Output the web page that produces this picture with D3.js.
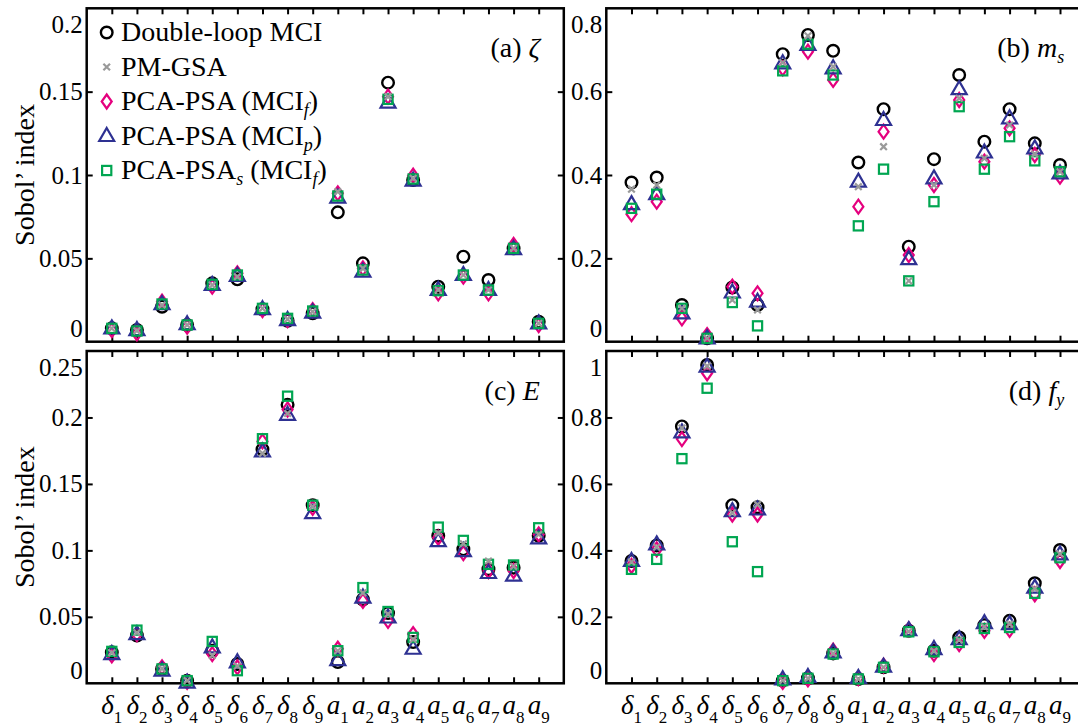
<!DOCTYPE html>
<html>
  <head>
    <title>Sobol' indices</title>
    <script src="https://d3js.org/d3.v7.min.js"></script>
    <style>
      body { margin: 0; background: #fff; }
      text { font-family: "Liberation Serif", "Times New Roman", serif; fill: #000; }
      .frame { fill: none; stroke: #000; stroke-width: 2.5; }
      .tick line { stroke: #000; stroke-width: 2; }
    </style>
  </head>
  <body>
    <div id="chart"></div>
    <script>
      // categories: symbol + subscript
      var catSymbols = ["δ","δ","δ","δ","δ","δ","δ","δ","δ","a","a","a","a","a","a","a","a","a"];
      var catSubs = ["1","2","3","4","5","6","7","8","9","1","2","3","4","5","6","7","8","9"];

      // (a) zeta
      var zetaMCI  = [0.008, 0.007, 0.021, 0.010, 0.035, 0.0374, 0.0195, 0.0126, 0.017, 0.0776, 0.047, 0.1554, 0.097, 0.033, 0.051, 0.037, 0.056, 0.012];
      var zetaPM   = [0.008, 0.0065, 0.022, 0.010, 0.034, 0.039, 0.020, 0.0135, 0.018, 0.090, 0.044, 0.147, 0.098, 0.031, 0.040, 0.031, 0.056, 0.011];
      var zetaPCAf = [0.007, 0.005, 0.024, 0.009, 0.033, 0.041, 0.019, 0.013, 0.019, 0.089, 0.044, 0.147, 0.0996, 0.029, 0.039, 0.029, 0.058, 0.010];
      var zetaPCAp = [0.008, 0.007, 0.0225, 0.0105, 0.034, 0.0395, 0.0195, 0.013, 0.0175, 0.0864, 0.042, 0.1434, 0.0966, 0.031, 0.040, 0.031, 0.0555, 0.011];
      var zetaPCAs = [0.008, 0.0064, 0.0226, 0.010, 0.0344, 0.040, 0.020, 0.014, 0.0184, 0.0874, 0.043, 0.1454, 0.0976, 0.0306, 0.040, 0.031, 0.056, 0.011];

      // (b) m_s
      var msMCI  = [0.382, 0.394, 0.088, 0.008, 0.13, 0.088, 0.69, 0.736, 0.698, 0.43, 0.558, 0.228, 0.438, 0.64, 0.48, 0.558, 0.476, 0.424];
      var msPM   = [0.366, 0.376, 0.08, 0.008, 0.10, 0.076, 0.67, 0.734, 0.66, 0.372, 0.468, 0.146, 0.376, 0.584, 0.44, 0.52, 0.45, 0.408];
      var msPCAf = [0.306, 0.336, 0.056, 0.016, 0.132, 0.116, 0.656, 0.696, 0.628, 0.324, 0.504, 0.208, 0.376, 0.58, 0.432, 0.512, 0.448, 0.396];
      var msPCAp = [0.33, 0.354, 0.068, 0.008, 0.118, 0.096, 0.668, 0.712, 0.656, 0.384, 0.532, 0.198, 0.392, 0.606, 0.454, 0.536, 0.464, 0.404];
      var msPCAs = [0.32, 0.354, 0.08, 0.008, 0.094, 0.038, 0.65, 0.714, 0.64, 0.278, 0.414, 0.146, 0.336, 0.564, 0.414, 0.492, 0.434, 0.408];

      // (c) E
      var eMCI  = [0.0233, 0.036, 0.0108, 0.002, 0.0245, 0.0145, 0.176, 0.2095, 0.134, 0.016, 0.063, 0.0528, 0.031, 0.111, 0.1008, 0.0858, 0.087, 0.111];
      var ePM   = [0.023, 0.038, 0.011, 0.002, 0.021, 0.013, 0.173, 0.203, 0.133, 0.0245, 0.068, 0.052, 0.033, 0.113, 0.105, 0.092, 0.088, 0.112];
      var ePCAf = [0.021, 0.037, 0.012, 0.001, 0.022, 0.012, 0.182, 0.206, 0.132, 0.026, 0.062, 0.047, 0.037, 0.1095, 0.098, 0.0845, 0.0845, 0.112];
      var ePCAp = [0.022, 0.037, 0.0095, 0.0005, 0.027, 0.0158, 0.1745, 0.202, 0.128, 0.0175, 0.0645, 0.0495, 0.026, 0.107, 0.0995, 0.083, 0.081, 0.109];
      var ePCAs = [0.024, 0.040, 0.0108, 0.002, 0.0315, 0.0095, 0.184, 0.216, 0.134, 0.0245, 0.072, 0.054, 0.0345, 0.1175, 0.1075, 0.0895, 0.089, 0.117];

      // (d) f_y
      var fyMCI  = [0.368, 0.415, 0.773, 0.958, 0.536, 0.53, 0.008, 0.015, 0.09, 0.013, 0.048, 0.158, 0.098, 0.138, 0.175, 0.188, 0.301, 0.401];
      var fyPM   = [0.365, 0.41, 0.768, 0.955, 0.513, 0.538, 0.008, 0.015, 0.09, 0.013, 0.048, 0.156, 0.097, 0.13, 0.17, 0.178, 0.285, 0.39];
      var fyPCAf = [0.353, 0.403, 0.735, 0.933, 0.508, 0.508, 0.004, 0.012, 0.098, 0.016, 0.053, 0.162, 0.088, 0.118, 0.158, 0.161, 0.268, 0.368];
      var fyPCAp = [0.368, 0.418, 0.755, 0.953, 0.518, 0.523, 0.012, 0.019, 0.093, 0.016, 0.05, 0.16, 0.103, 0.133, 0.181, 0.178, 0.288, 0.388];
      var fyPCAs = [0.343, 0.373, 0.676, 0.888, 0.426, 0.336, 0.008, 0.015, 0.088, 0.013, 0.048, 0.155, 0.095, 0.123, 0.165, 0.168, 0.271, 0.378];

      var zetaTicks = [0, 0.05, 0.1, 0.15, 0.2];
      var msTicks = [0, 0.2, 0.4, 0.6, 0.8];
      var eTicks = [0, 0.05, 0.1, 0.15, 0.2, 0.25];
      var fyTicks = [0, 0.2, 0.4, 0.6, 0.8, 1];

      var width = 1078, height = 728;
      var colors = { mci: "#000000", pm: "#9a9a9a", pcaf: "#e5007e", pcap: "#2e3192", pcas: "#00a651" };

      var svg = d3.select("#chart").append("svg")
        .attr("width", width)
        .attr("height", height);

      // marker drawing helpers
      function drawMarker(g, kind, cx, cy) {
        if (kind === "mci") {
          g.append("circle").attr("cx", cx).attr("cy", cy).attr("r", 5.8)
            .attr("fill", "none").attr("stroke", colors.mci).attr("stroke-width", 2.4);
        } else if (kind === "pm") {
          var s = 3.3;
          g.append("path")
            .attr("d", "M" + (cx - s) + "," + (cy - s) + "L" + (cx + s) + "," + (cy + s) +
                       "M" + (cx - s) + "," + (cy + s) + "L" + (cx + s) + "," + (cy - s))
            .attr("stroke", colors.pm).attr("stroke-width", 2.2).attr("fill", "none");
        } else if (kind === "pcaf") {
          g.append("path")
            .attr("d", "M" + cx + "," + (cy - 7) + "L" + (cx + 5) + "," + cy + "L" + cx + "," + (cy + 7) + "L" + (cx - 5) + "," + cy + "Z")
            .attr("fill", "none").attr("stroke", colors.pcaf).attr("stroke-width", 2.2);
        } else if (kind === "pcap") {
          g.append("path")
            .attr("d", "M" + cx + "," + (cy - 8) + "L" + (cx + 7.5) + "," + (cy + 5) + "L" + (cx - 7.5) + "," + (cy + 5) + "Z")
            .attr("fill", "none").attr("stroke", colors.pcap).attr("stroke-width", 2.2);
        } else if (kind === "pcas") {
          g.append("rect").attr("x", cx - 4.6).attr("y", cy - 4.6).attr("width", 9.2).attr("height", 9.2)
            .attr("fill", "none").attr("stroke", colors.pcas).attr("stroke-width", 2.2);
        }
      }

      var panels = [
        { left: 86.7, right: 563.8, top: 8.3, bottom: 341.7, ymax: 0.2, ticks: zetaTicks, label: "(a) ", sym: "ζ", sub: "",
          series: { mci: zetaMCI, pm: zetaPM, pcaf: zetaPCAf, pcap: zetaPCAp, pcas: zetaPCAs }, xlabels: false, title: true },
        { left: 606.3, right: 1085.2, top: 8.3, bottom: 341.7, ymax: 0.8, ticks: msTicks, label: "(b) ", sym: "m", sub: "s",
          series: { mci: msMCI, pm: msPM, pcaf: msPCAf, pcap: msPCAp, pcas: msPCAs }, xlabels: false, title: false },
        { left: 86.7, right: 563.8, top: 351, bottom: 683.3, ymax: 0.25, ticks: eTicks, label: "(c) ", sym: "E", sub: "",
          series: { mci: eMCI, pm: ePM, pcaf: ePCAf, pcap: ePCAp, pcas: ePCAs }, xlabels: true, title: true },
        { left: 606.3, right: 1085.2, top: 351, bottom: 683.3, ymax: 1, ticks: fyTicks, label: "(d) ", sym: "f", sub: "y",
          series: { mci: fyMCI, pm: fyPM, pcaf: fyPCAf, pcap: fyPCAp, pcas: fyPCAs }, xlabels: true, title: false }
      ];

      var order = ["mci", "pcaf", "pcap", "pcas", "pm"];
      var idx = d3.range(1, 19);

      panels.forEach(function (p) {
        var x = d3.scaleLinear().domain([0, 19]).range([p.left, p.right]);
        var y = d3.scaleLinear().domain([0, p.ymax]).range([p.bottom, p.top]);
        var g = svg.append("g");

        // inward ticks on all four sides
        var inner = p.ticks.slice(1, -1);
        g.append("g").attr("transform", "translate(" + p.left + ",0)")
          .call(d3.axisRight(y).tickValues(inner).tickSize(6).tickFormat(""))
          .call(function (s) { s.select(".domain").remove(); });
        g.append("g").attr("transform", "translate(" + p.right + ",0)")
          .call(d3.axisLeft(y).tickValues(inner).tickSize(6).tickFormat(""))
          .call(function (s) { s.select(".domain").remove(); });
        g.append("g").attr("transform", "translate(0," + p.bottom + ")")
          .call(d3.axisTop(x).tickValues(idx).tickSize(6).tickFormat(""))
          .call(function (s) { s.select(".domain").remove(); });
        g.append("g").attr("transform", "translate(0," + p.top + ")")
          .call(d3.axisBottom(x).tickValues(idx).tickSize(6).tickFormat(""))
          .call(function (s) { s.select(".domain").remove(); });

        // y tick labels, end labels pulled inside
        var fmt = d3.format("");
        p.ticks.forEach(function (t, i) {
          var yy = y(t);
          if (i === 0) yy = p.bottom - 13;
          if (i === p.ticks.length - 1) yy = p.top + 16;
          svg.append("text")
            .attr("x", p.left - 4)
            .attr("y", yy)
            .attr("text-anchor", "end")
            .attr("dominant-baseline", "central")
            .style("font-size", "25px")
            .text(fmt(t));
        });

        // frame
        g.append("rect").attr("class", "frame")
          .attr("x", p.left).attr("y", p.top)
          .attr("width", p.right - p.left).attr("height", p.bottom - p.top);

        // markers
        var mg = g.append("g");
        order.forEach(function (k) {
          p.series[k].forEach(function (v, i) {
            drawMarker(mg, k, x(i + 1), y(v));
          });
        });

        // panel label
        var lab = svg.append("text")
          .attr("x", p.right - (p.sub ? 21 : 24))
          .attr("y", p.top + 49)
          .attr("text-anchor", "end")
          .style("font-size", "28px");
        lab.append("tspan").text(p.label);
        lab.append("tspan").style("font-style", "italic").text(p.sym);
        if (p.sub) {
          lab.append("tspan").style("font-style", "italic").style("font-size", "18px")
            .attr("dy", 6).text(p.sub);
        }

        // x labels
        if (p.xlabels) {
          idx.forEach(function (c, i) {
            var t = svg.append("text")
              .attr("x", x(c))
              .attr("y", 714)
              .attr("text-anchor", "middle")
              .style("font-size", "27px");
            t.append("tspan").style("font-style", "italic").text(catSymbols[i]);
            t.append("tspan").style("font-size", "17px").attr("dy", 9).text(catSubs[i]);
          });
        }

        // y title
        if (p.title) {
          svg.append("text")
            .attr("transform", "translate(34," + ((p.top + p.bottom) / 2) + ") rotate(-90)")
            .attr("text-anchor", "middle")
            .style("font-size", "28px")
            .text("Sobol’ index");
        }
      });

      // legend
      var legend = [
        { k: "mci", parts: [["Double-loop MCI", ""]] },
        { k: "pm", parts: [["PM-GSA", ""]] },
        { k: "pcaf", parts: [["PCA-PSA (MCI", ""], ["f", "sub"], [")", ""]] },
        { k: "pcap", parts: [["PCA-PSA (MCI", ""], ["p", "sub"], [")", ""]] },
        { k: "pcas", parts: [["PCA-PSA", ""], ["s", "sub"], [" (MCI", ""], ["f", "sub"], [")", ""]] }
      ];
      var lg = svg.append("g");
      legend.forEach(function (d, i) {
        var base = 41 + i * 34.5;
        drawMarker(lg, d.k, 106.7, base - 8.5);
        var t = lg.append("text").attr("x", 121).attr("y", base).style("font-size", "28px");
        var shifted = false;
        d.parts.forEach(function (pt) {
          var ts = t.append("tspan").text(pt[0]);
          if (pt[1] === "sub") {
            ts.style("font-style", "italic").style("font-size", "18px").attr("dy", 6);
            shifted = true;
          } else if (shifted) {
            ts.attr("dy", -6);
            shifted = false;
          }
        });
      });
    </script>
  </body>
</html>
